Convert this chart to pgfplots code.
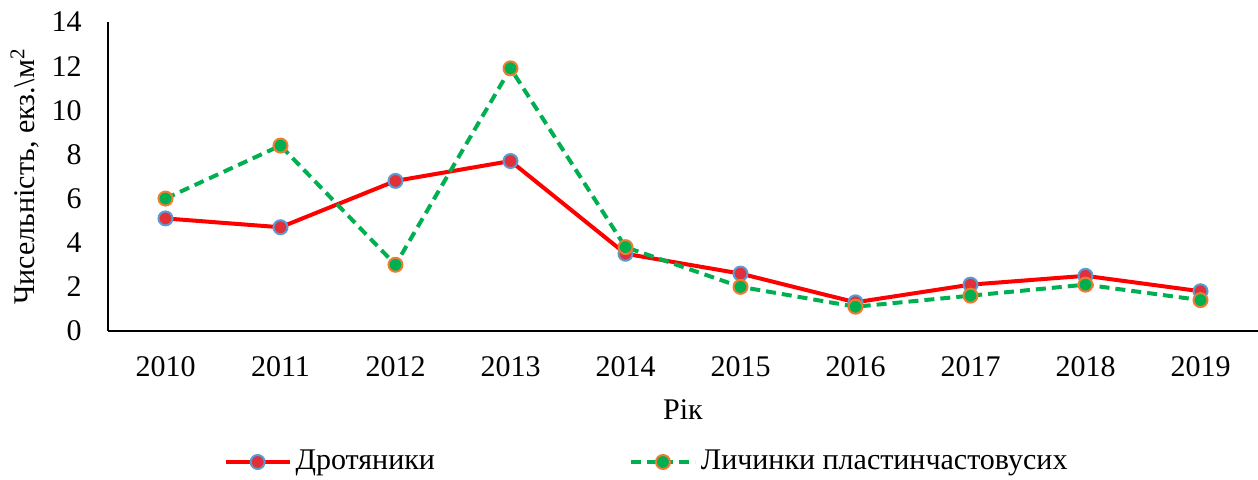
\documentclass[border=0pt]{standalone}
\usepackage{fontspec}
\setmainfont{Liberation Serif}
\usepackage{pgfplots}
\pgfplotsset{compat=1.18}

\definecolor{redline}{HTML}{FF0000}
\definecolor{greenline}{HTML}{00B050}
\definecolor{markblue}{HTML}{5B9BD5}
\definecolor{markorange}{HTML}{ED7D31}
\definecolor{markred}{HTML}{E0303A}

\begin{document}
\fontsize{15}{18}\selectfont
\begin{tikzpicture}
  \begin{axis}[
    name=ax,
    scale only axis,
    width=575pt, height=154.5pt,
    xmin=-0.5, xmax=9.5,
    ymin=0, ymax=14,
    xtick={0,...,9},
    xticklabels={2010,2011,2012,2013,2014,2015,2016,2017,2018,2019},
    ytick={0,2,...,14},
    axis x line*=bottom,
    axis y line*=left,
    axis line style={black, line width=0.6pt},
    major tick length=0pt,
    /pgf/number format/assume math mode=true,
    tick label style={font=\fontsize{15}{18}\selectfont},
    xticklabel style={anchor=center, yshift=-18pt},
    yticklabel style={anchor=east, inner sep=0pt, xshift=-13pt},
    xlabel={Рік},
    xlabel style={at={(axis description cs:0.5,-0.2557)}, anchor=center, font=\fontsize{15}{18}\selectfont},
    ylabel={Чисельність, екз.\textbackslash м\textsuperscript{2}},
    ylabel style={at={(axis description cs:-0.0722,0.5)}, anchor=center, font=\fontsize{15}{18}\selectfont},
    legend columns=2,
    legend style={
      at={(axis description cs:0.095,-0.424)}, anchor=west,
      draw=none, fill=none,
      font=\fontsize{15}{18}\selectfont,
      /tikz/every even column/.append style={column sep=95pt},
    },
    legend image code/.code={
      \draw[mark repeat=2, mark phase=2] plot coordinates {(0pt,0pt) (16pt,0pt) (32pt,0pt)};
    },
  ]

  \addplot[color=redline, line width=2pt,
    mark=*, mark size=3.5pt,
    mark options={solid, fill=markred, draw=markblue, line width=1pt}]
    table {
      0  5.1
      1  4.7
      2  6.8
      3  7.7
      4  3.5
      5  2.6
      6  1.3
      7  2.1
      8  2.5
      9  1.8
    };

  \addplot[color=greenline, line width=2pt, dash pattern=on 5pt off 3pt,
    mark=*, mark size=3.5pt,
    mark options={solid, fill=greenline, draw=markorange, line width=1pt}]
    table {
      0  6.0
      1  8.4
      2  3.0
      3  11.9
      4  3.8
      5  2.0
      6  1.1
      7  1.6
      8  2.1
      9  1.4
    };

  \legend{Дротяники, Личинки пластинчастовусих}
  \end{axis}
  \pgfresetboundingbox
  \path ([shift={(-54pt,-74.5pt)}]ax.south west) rectangle ([shift={(0pt,11pt)}]ax.north east);
\end{tikzpicture}
\end{document}
